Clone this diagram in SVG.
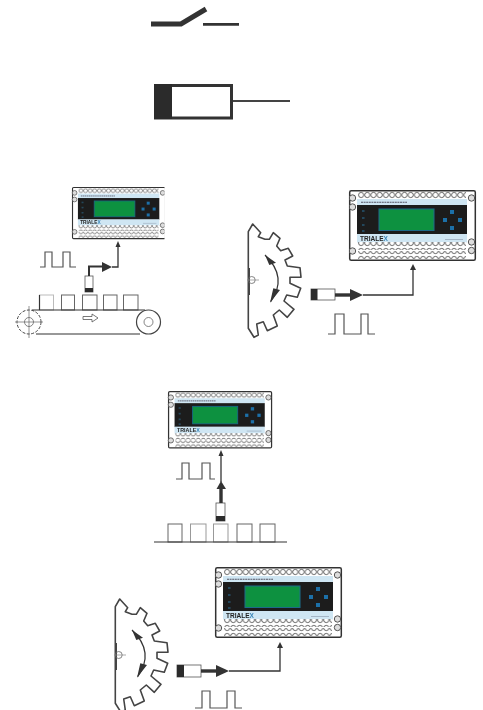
<svg xmlns="http://www.w3.org/2000/svg" width="483" height="710" viewBox="0 0 483 710">
<style>
.thick{fill:none;stroke:#333;stroke-width:3.4}
.thin{fill:none;stroke:#333;stroke-width:1.3}
.pulse{fill:none;stroke:#555;stroke-width:1.2}
.head{fill:#333}
.box{fill:#fff;stroke:#666;stroke-width:1}
.gear{fill:#fff;stroke:#444;stroke-width:1.6;stroke-linejoin:round}
.sens{fill:#fff;stroke:#555;stroke-width:.8}
.blk{fill:#2b2b2b}
.line{stroke:#333;stroke-width:1.2;fill:none}
.logo{font-family:"Liberation Sans",Arial,sans-serif;font-weight:700;font-size:6.5px;fill:#222}
</style>
<defs>
<pattern id="ring" patternUnits="userSpaceOnUse" width="6.2" height="8" x="9" y="1">
<circle cx="3.1" cy="4" r="2.600" fill="#fff" stroke="#444" stroke-width=".8"/>
</pattern>
<filter id="soft" x="-5%" y="-5%" width="110%" height="110%"><feGaussianBlur stdDeviation=".4"/></filter>
<clipPath id="clipL"><rect x="-2" y="-2" width="127" height="76"/></clipPath>
<g id="device" filter="url(#soft)">
<rect x=".7" y=".7" width="125.6" height="69.6" rx="1.5" fill="#fff" stroke="#333" stroke-width="1.5"/>
<rect x="8" y="9" width="110" height="6.500" fill="#cfe6f3"/>
<rect x="8" y="15" width="110" height="29.500" fill="#1f1f1f"/>
<rect x="8" y="44" width="110" height="8.500" fill="#cfe6f3"/>
<path d="M12 12.200H58" stroke="#556" stroke-width="1.100" stroke-dasharray="2 .6"/>
<rect x="30" y="19" width="55" height="21.500" fill="#0a9140" stroke="#1a6a8a" stroke-width="1"/>
<g fill="#1c6fa8">
<rect x="101" y="20" width="4" height="4"/><rect x="94" y="28" width="4" height="4"/>
<rect x="109" y="28" width="4" height="4"/><rect x="101" y="36" width="4" height="4"/>
</g>
<g fill="#24465c"><rect x="13" y="20" width="2.500" height="2"/><rect x="13" y="27" width="2.500" height="2"/><rect x="13" y="34" width="2.500" height="2"/><rect x="13" y="40" width="2.500" height="2"/></g>
<text class="logo" x="11" y="50.500">TRIALE<tspan fill="#3a86b8">X</tspan></text>
<path d="M96 49.500H114" stroke="#9ab" stroke-width=".8"/>
<rect x="9" y="1" width="108" height="8" fill="url(#ring)"/>
<rect x="9" y="52" width="108" height="8" fill="url(#ring)"/>
<rect x="9" y="61" width="108" height="8" fill="url(#ring)"/>
<g fill="#ddd" stroke="#444" stroke-width=".9">
<circle cx="3.500" cy="8" r="3.200"/><circle cx="3.500" cy="17" r="3.200"/><circle cx="3.500" cy="61" r="3.200"/>
<circle cx="122.500" cy="8" r="3.200"/><circle cx="122.500" cy="52" r="3.200"/><circle cx="122.500" cy="60.500" r="3.200"/>
</g>
</g>
<g id="gearShape">
<path class="gear" d="M-1.700 48.300V-48.300L2.700 -56L10.700 -47.300L8.300 -43.300L15 -40.700H19.300L23.300 -47.300L30 -41.700L26.700 -34L30.700 -29.300L38.300 -31.700L42.700 -24L35 -20L37.300 -14L50 -12.300L51 -2.700H40V3.300L50.700 8.300L47.300 17.300L36.700 15L34 21L44 29.300L37.300 37.300L29.300 30L23.300 35L27.300 46L17.300 50.700L13.300 41.700L6.700 44L8.300 55L4 57.300Z"/>
<path d="M-1 -12V15" stroke="#444" stroke-width="2"/>
<circle cx="1.700" cy="0" r="3.500" fill="none" stroke="#666" stroke-width=".8"/>
<path d="M-3 0H9" stroke="#888" stroke-width=".7"/>
<path d="M15 -25Q38 -3 20.700 21.700" fill="none" stroke="#333" stroke-width="1.200"/>
<path class="head" d="M15 -25L26 -17.300L19.300 -15ZM20 22.700L30 10L23.300 8.300Z"/>
</g>
</defs>
<g id="switch-symbol">
<path d="M151 24H181L206 9" fill="none" stroke="#333" stroke-width="5"/>
<path d="M203 24.300H239" fill="none" stroke="#333" stroke-width="2.800"/>
</g>
<g id="sensor-symbol">
<rect x="155.500" y="85.500" width="76" height="32.500" fill="#fff" stroke="#333" stroke-width="3"/>
<rect x="154" y="84" width="18" height="35" class="blk"/>
<path d="M233 101H290" fill="none" stroke="#444" stroke-width="1.800"/>
</g>
<g id="device-1" transform="translate(72 187) scale(.74 .735)"><g clip-path="url(#clipL)"><use href="#device"/></g></g>
<g id="device-2" transform="translate(349 190)"><use href="#device"/></g>
<g id="device-3" transform="translate(168 391) scale(.82 .81)"><use href="#device"/></g>
<g id="device-4" transform="translate(215 567)"><use href="#device"/></g>
<g id="gear-1" transform="translate(250 280)"><use href="#gearShape"/></g>
<g id="gear-2" transform="translate(117 655)"><use href="#gearShape"/></g>
<g id="conveyor-1">
<g class="box"><rect x="39.500" y="295" width="14" height="15" stroke="#bbb"/><rect x="61.500" y="295" width="13" height="15"/><rect x="82.500" y="295" width="14.500" height="15"/><rect x="103.500" y="295" width="13.500" height="15"/><rect x="123.500" y="295" width="14.500" height="15"/></g>
<path class="line" d="M39.500 295V310"/>
<circle cx="29" cy="322" r="12" fill="#fff" stroke="#444" stroke-width="1" stroke-dasharray="3 1.500"/>
<circle cx="29" cy="322" r="4.500" fill="none" stroke="#666" stroke-width=".8"/>
<path d="M29 306V338M15 322H43" stroke="#666" stroke-width=".7"/>
<circle cx="148.500" cy="322" r="12" fill="#fff" stroke="#444" stroke-width="1.200"/>
<circle cx="148.500" cy="322" r="4.500" fill="none" stroke="#666" stroke-width=".8"/>
<path class="line" d="M32 310H145M36 334H140"/>
<path d="M83 316.500H92V314L98 318L92 322V319.500H83Z" fill="#fff" stroke="#555" stroke-width=".8"/>
</g>
<g id="conveyor-2">
<g class="box"><rect x="168" y="524" width="14" height="18"/><rect x="190.500" y="524" width="15.500" height="18" stroke="#999"/><rect x="213.500" y="524" width="14.500" height="18" stroke="#999"/><rect x="237" y="524" width="15" height="18"/><rect x="260" y="524" width="15" height="18"/></g>
<path class="line" d="M154 542H287"/>
</g>
<g id="sensor-1"><rect class="sens" x="85" y="276" width="8" height="16"/><rect class="blk" x="85" y="288" width="8" height="4"/></g>
<g id="sensor-2"><rect class="sens" x="311" y="289" width="24" height="11"/><rect class="blk" x="311" y="289" width="6.500" height="11"/></g>
<g id="sensor-3"><rect class="sens" x="216" y="503" width="9" height="18"/><rect class="blk" x="216" y="516" width="9" height="5"/></g>
<g id="sensor-4"><rect class="sens" x="177" y="665" width="24" height="12"/><rect class="blk" x="177" y="665" width="7" height="12"/></g>
<g id="pulses">
<path class="pulse" d="M40 267H45V252H52V267H63V252H70V267H76"/>
<path class="pulse" d="M328 334H335V314H344V334H361V314H368V334H375"/>
<path class="pulse" d="M176 479H182V463H189V479H202V463H210V479H215"/>
<path class="pulse" d="M195 708H202V691H210V708H227V691H235V708H242"/>
</g>
<g id="connectors">
<path class="thin" style="stroke-width:2" d="M89 276V266.500H103"/>
<path class="head" d="M102 262L112 267L102 272Z"/>
<path class="thin" d="M112 267H118V244"/>
<path class="head" d="M115.500 247L118 241L120.500 247Z"/>
<path class="thick" d="M335 295H350"/>
<path class="head" d="M350 289L363 295L350 301Z"/>
<path class="thin" d="M363 295H413V270"/>
<path class="head" d="M410 270L413 264L416 270Z"/>
<path class="thick" d="M221 503V488"/>
<path class="head" d="M216.500 489L221 481L226 489Z"/>
<path class="thin" d="M221 482V455"/>
<path class="head" d="M218.500 456L221 450L223.500 456Z"/>
<path class="thick" d="M201 671H217"/>
<path class="head" d="M216 665L229 671L216 677Z"/>
<path class="thin" d="M229 671H280V648"/>
<path class="head" d="M277 648L280 642L283 648Z"/>
</g>
</svg>
